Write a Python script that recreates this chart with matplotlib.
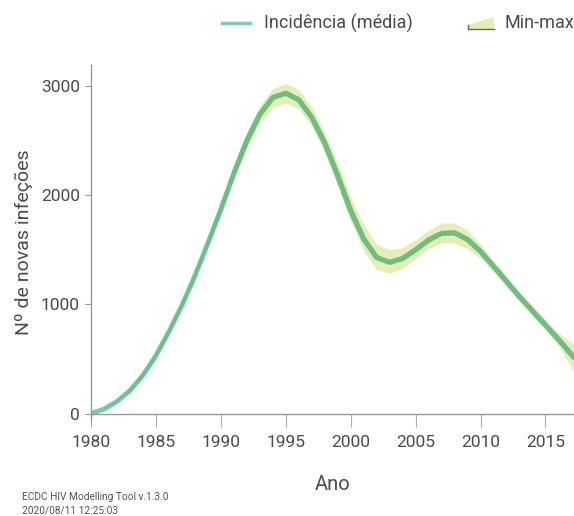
import numpy as np
import matplotlib
matplotlib.use("Agg")
import matplotlib.pyplot as plt
from matplotlib.lines import Line2D
from matplotlib.patches import Polygon

plt.rcParams['font.family'] = ['Roboto', 'DejaVu Sans']

anos = np.arange(1980, 2019)
media = [0, 40, 110, 210, 350, 530, 750, 990, 1260, 1560,
         1870, 2200, 2500, 2740, 2895, 2935, 2875, 2715, 2480, 2180,
         1860, 1600, 1430, 1385, 1420, 1500, 1590, 1650, 1655, 1595,
         1485, 1350, 1210, 1070, 940, 810, 680, 540, 400]
minimo = [0, 35, 100, 195, 330, 505, 720, 960, 1225, 1520,
          1820, 2140, 2430, 2660, 2800, 2845, 2790, 2630, 2390, 2080,
          1760, 1490, 1320, 1285, 1330, 1420, 1510, 1565, 1560, 1510,
          1420, 1300, 1165, 1030, 900, 770, 620, 420, 250]
maximo = [0, 45, 120, 225, 370, 555, 780, 1020, 1295, 1600,
          1920, 2260, 2570, 2820, 2975, 3025, 2970, 2810, 2580, 2290,
          1980, 1730, 1550, 1500, 1520, 1590, 1680, 1745, 1745, 1680,
          1550, 1400, 1255, 1115, 985, 860, 740, 650, 550]

cor_linha = '#7bcdb5'
cor_banda = '#e6edb5'
cor_mix = '#6fbe80'
cinza = '#4a4a4a'

fig = plt.figure(figsize=(5.74, 5.16), dpi=100)
ax = fig.add_axes([0.1585, 0.187, 0.8415, 0.687])

banda = ax.fill_between(anos, minimo, maximo, color=cor_banda, lw=0, zorder=1)
ax.plot(anos, media, color=cor_linha, lw=3.6, solid_capstyle='butt',
        solid_joinstyle='round', zorder=2)
l2, = ax.plot(anos, media, color=cor_mix, lw=3.6, solid_capstyle='butt',
              solid_joinstyle='round', zorder=3)
l2.set_clip_path(banda.get_paths()[0], transform=ax.transData)

ax.set_xlim(1980, 2017.2)
ax.set_ylim(-55, 3193)
ax.set_xticks(range(1980, 2016, 5))
ax.set_yticks([0, 1000, 2000, 3000])

for s in ['top', 'right']:
    ax.spines[s].set_visible(False)
ax.spines['bottom'].set_position(('data', 0))
for s in ['left', 'bottom']:
    ax.spines[s].set_color('#999999')
    ax.spines[s].set_linewidth(1)
ax.tick_params(axis='x', length=9.5, color='#aaaaaa', labelsize=12.5, labelcolor=cinza, pad=6)
ax.tick_params(axis='y', length=4, color='#999999', labelsize=12.5, labelcolor=cinza, pad=4)

ax.set_xlabel('Ano', fontsize=14.5, color=cinza, labelpad=18)
ax.set_ylabel('Nº de novas infeções', fontsize=14, color=cinza, labelpad=6)

# legenda
fig.add_artist(Line2D([222 / 574, 250 / 574], [1 - 23 / 516, 1 - 23 / 516],
                      color=cor_linha, lw=2.5, transform=fig.transFigure))
fig.text(264 / 574, 1 - 23 / 516, 'Incidência (média)', fontsize=13,
         color=cinza, va='center', ha='left')
fig.add_artist(Polygon([[468 / 574, 1 - 29 / 516], [468 / 574, 1 - 25 / 516],
                        [494 / 574, 1 - 17 / 516], [494 / 574, 1 - 29 / 516]],
                       closed=True, facecolor=cor_banda, edgecolor='none',
                       transform=fig.transFigure))
fig.add_artist(Line2D([468 / 574, 494 / 574], [1 - 29 / 516, 1 - 29 / 516],
                      color='#6b6b4a', lw=1, transform=fig.transFigure))
fig.add_artist(Line2D([468 / 574, 468 / 574], [1 - 29 / 516, 1 - 25 / 516],
                      color='#6b6b4a', lw=1, transform=fig.transFigure))
fig.text(505 / 574, 1 - 23 / 516, 'Min-max', fontsize=13,
         color=cinza, va='center', ha='left')

fig.text(22 / 574, 1 - 497 / 516, 'ECDC HIV Modelling Tool v.1.3.0', fontsize=7.3,
         color='#555555', va='center')
fig.text(22 / 574, 1 - 510 / 516, '2020/08/11 12:25:03', fontsize=7.3,
         color='#555555', va='center')

fig.savefig('out.png', dpi=100)
